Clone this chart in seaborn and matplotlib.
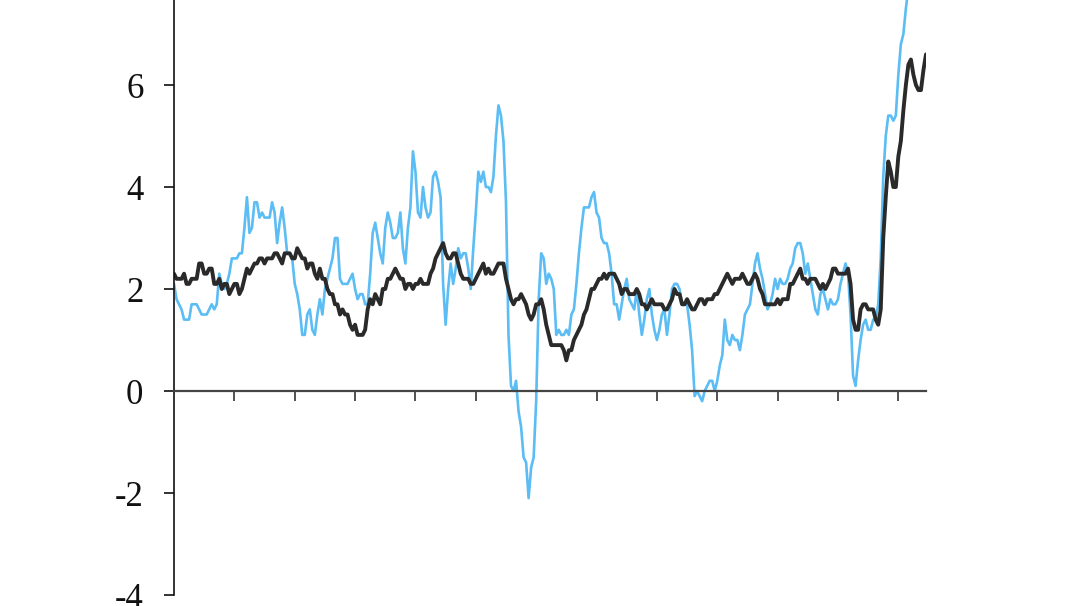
import numpy as np
import pandas as pd
import matplotlib
matplotlib.use("Agg")
import matplotlib.pyplot as plt
import seaborn as sns

# Monthly year-on-year rates, Oct 1997 .. Sep 2022
headline = [
    2.1, 1.8, 1.7,
    1.6, 1.4, 1.4, 1.4, 1.7, 1.7, 1.7, 1.6, 1.5, 1.5, 1.5, 1.6,
    1.7, 1.6, 1.7, 2.3, 2.1, 2.0, 2.1, 2.3, 2.6, 2.6, 2.6, 2.7,
    2.7, 3.2, 3.8, 3.1, 3.2, 3.7, 3.7, 3.4, 3.5, 3.4, 3.4, 3.4,
    3.7, 3.5, 2.9, 3.3, 3.6, 3.2, 2.7, 2.7, 2.6, 2.1, 1.9, 1.6,
    1.1, 1.1, 1.5, 1.6, 1.2, 1.1, 1.5, 1.8, 1.5, 2.0, 2.2, 2.4,
    2.6, 3.0, 3.0, 2.2, 2.1, 2.1, 2.1, 2.2, 2.3, 2.0, 1.8, 1.9,
    1.9, 1.7, 1.7, 2.3, 3.1, 3.3, 3.0, 2.7, 2.5, 3.2, 3.5, 3.3,
    3.0, 3.0, 3.1, 3.5, 2.8, 2.5, 3.2, 3.6, 4.7, 4.3, 3.5, 3.4,
    4.0, 3.6, 3.4, 3.5, 4.2, 4.3, 4.1, 3.8, 2.1, 1.3, 2.0, 2.5,
    2.1, 2.4, 2.8, 2.6, 2.7, 2.7, 2.4, 2.0, 2.8, 3.5, 4.3, 4.1,
    4.3, 4.0, 4.0, 3.9, 4.2, 5.0, 5.6, 5.4, 4.9, 3.7, 1.1, 0.1,
    0.0, 0.2, -0.4, -0.7, -1.3, -1.4, -2.1, -1.5, -1.3, -0.2, 1.8, 2.7,
    2.6, 2.1, 2.3, 2.2, 2.0, 1.1, 1.2, 1.1, 1.1, 1.2, 1.1, 1.5,
    1.6, 2.1, 2.7, 3.2, 3.6, 3.6, 3.6, 3.8, 3.9, 3.5, 3.4, 3.0,
    2.9, 2.9, 2.7, 2.3, 1.7, 1.7, 1.4, 1.7, 2.0, 2.2, 1.8, 1.7,
    1.6, 2.0, 1.5, 1.1, 1.4, 1.8, 2.0, 1.5, 1.2, 1.0, 1.2, 1.5,
    1.6, 1.1, 1.5, 2.0, 2.1, 2.1, 2.0, 1.7, 1.7, 1.7, 1.3, 0.8,
    -0.1, 0.0, -0.1, -0.2, 0.0, 0.1, 0.2, 0.2, 0.0, 0.2, 0.5, 0.7,
    1.4, 1.0, 0.9, 1.1, 1.0, 1.0, 0.8, 1.1, 1.5, 1.6, 1.7, 2.1,
    2.5, 2.7, 2.4, 2.2, 1.9, 1.6, 1.7, 1.9, 2.2, 2.0, 2.2, 2.1,
    2.1, 2.2, 2.4, 2.5, 2.8, 2.9, 2.9, 2.7, 2.3, 2.5, 2.2, 1.9,
    1.6, 1.5, 1.9, 2.0, 1.8, 1.6, 1.8, 1.7, 1.7, 1.8, 2.1, 2.3,
    2.5, 2.3, 1.5, 0.3, 0.1, 0.6, 1.0, 1.3, 1.4, 1.2, 1.2, 1.4,
    1.4, 1.7, 2.6, 4.2, 5.0, 5.4, 5.4, 5.3, 5.4, 6.2, 6.8, 7.0,
    7.5, 7.9, 8.5, 8.3, 8.6, 9.1, 8.5, 8.3, 8.2,
]
core = [
    2.3, 2.2, 2.2,
    2.2, 2.3, 2.1, 2.1, 2.2, 2.2, 2.2, 2.5, 2.5, 2.3, 2.3, 2.4,
    2.4, 2.1, 2.1, 2.2, 2.0, 2.1, 2.1, 1.9, 2.0, 2.1, 2.1, 1.9,
    2.0, 2.2, 2.4, 2.3, 2.4, 2.5, 2.5, 2.6, 2.6, 2.5, 2.6, 2.6,
    2.6, 2.7, 2.7, 2.6, 2.5, 2.7, 2.7, 2.7, 2.6, 2.6, 2.8, 2.7,
    2.6, 2.6, 2.4, 2.5, 2.5, 2.3, 2.2, 2.4, 2.2, 2.2, 2.0, 1.9,
    1.9, 1.7, 1.7, 1.5, 1.6, 1.5, 1.5, 1.3, 1.2, 1.3, 1.1, 1.1,
    1.1, 1.2, 1.6, 1.8, 1.7, 1.9, 1.8, 1.7, 2.0, 2.0, 2.2, 2.2,
    2.3, 2.4, 2.3, 2.2, 2.2, 2.0, 2.1, 2.1, 2.0, 2.1, 2.1, 2.2,
    2.1, 2.1, 2.1, 2.3, 2.4, 2.6, 2.7, 2.8, 2.9, 2.7, 2.6, 2.6,
    2.7, 2.7, 2.5, 2.3, 2.2, 2.2, 2.2, 2.1, 2.1, 2.2, 2.3, 2.4,
    2.5, 2.3, 2.4, 2.3, 2.3, 2.4, 2.5, 2.5, 2.5, 2.2, 2.0, 1.8,
    1.7, 1.8, 1.8, 1.9, 1.8, 1.7, 1.5, 1.4, 1.5, 1.7, 1.7, 1.8,
    1.6, 1.3, 1.1, 0.9, 0.9, 0.9, 0.9, 0.9, 0.8, 0.6, 0.8, 0.8,
    1.0, 1.1, 1.2, 1.3, 1.5, 1.6, 1.8, 2.0, 2.0, 2.1, 2.2, 2.2,
    2.3, 2.2, 2.3, 2.3, 2.3, 2.2, 2.1, 1.9, 2.0, 2.0, 1.9, 1.9,
    1.9, 2.0, 1.9, 1.7, 1.7, 1.6, 1.7, 1.8, 1.7, 1.7, 1.7, 1.7,
    1.6, 1.6, 1.7, 1.8, 2.0, 1.9, 1.9, 1.7, 1.7, 1.8, 1.7, 1.6,
    1.6, 1.7, 1.8, 1.8, 1.7, 1.8, 1.8, 1.8, 1.9, 1.9, 2.0, 2.1,
    2.2, 2.3, 2.2, 2.1, 2.2, 2.2, 2.2, 2.3, 2.2, 2.1, 2.1, 2.2,
    2.3, 2.2, 2.0, 1.9, 1.7, 1.7, 1.7, 1.7, 1.7, 1.8, 1.7, 1.8,
    1.8, 1.8, 2.1, 2.1, 2.2, 2.3, 2.4, 2.2, 2.2, 2.1, 2.2, 2.2,
    2.2, 2.1, 2.0, 2.1, 2.0, 2.1, 2.2, 2.4, 2.4, 2.3, 2.3, 2.3,
    2.3, 2.4, 2.1, 1.4, 1.2, 1.2, 1.6, 1.7, 1.7, 1.6, 1.6, 1.6,
    1.4, 1.3, 1.6, 3.0, 3.8, 4.5, 4.3, 4.0, 4.0, 4.6, 4.9, 5.5,
    6.0, 6.4, 6.5, 6.2, 6.0, 5.9, 5.9, 6.3, 6.6,
]
y_ticks = [-4, -2, 0, 2, 4, 6]
x_tick_step = 24  # months between x ticks

n = len(headline)
df = pd.DataFrame({"month": np.arange(n), "headline": headline, "core": core})

sns.set_style("ticks")
plt.rcParams["font.family"] = ["Liberation Serif", "DejaVu Serif"]

fig = plt.figure(figsize=(10.78, 6.06), dpi=100)
ax = fig.add_axes([174 / 1078, 11 / 606, 752 / 1078, 595 / 606])

sns.lineplot(data=df, x="month", y="headline", ax=ax, color="#5BBDF4", linewidth=1.9)
sns.lineplot(data=df, x="month", y="core", ax=ax, color="#2A2A2A", linewidth=2.8)

ax.set_xlim(0, n - 1)
ax.set_ylim(-4, 391 / 51)
ax.set_yticks(y_ticks)
ax.set_yticklabels([str(t) for t in y_ticks])
ax.set_xticks(np.arange(x_tick_step, n, x_tick_step))
ax.set_xticklabels([])
ax.set_xlabel("")
ax.set_ylabel("")

for s in ["top", "right"]:
    ax.spines[s].set_visible(False)
ax.spines["bottom"].set_position(("data", 0))
ax.spines["bottom"].set_color("#444444")
ax.spines["bottom"].set_linewidth(1.6)
ax.spines["left"].set_color("#111111")
ax.spines["left"].set_linewidth(1.2)

ax.tick_params(axis="y", left=True, direction="out", length=7, width=1.2, color="#111111",
               labelsize=25, pad=15, labelcolor="#111111")
ax.tick_params(axis="x", bottom=True, direction="out", length=7, width=1.2, color="#333333")

fig.savefig("out.png", dpi=100)
